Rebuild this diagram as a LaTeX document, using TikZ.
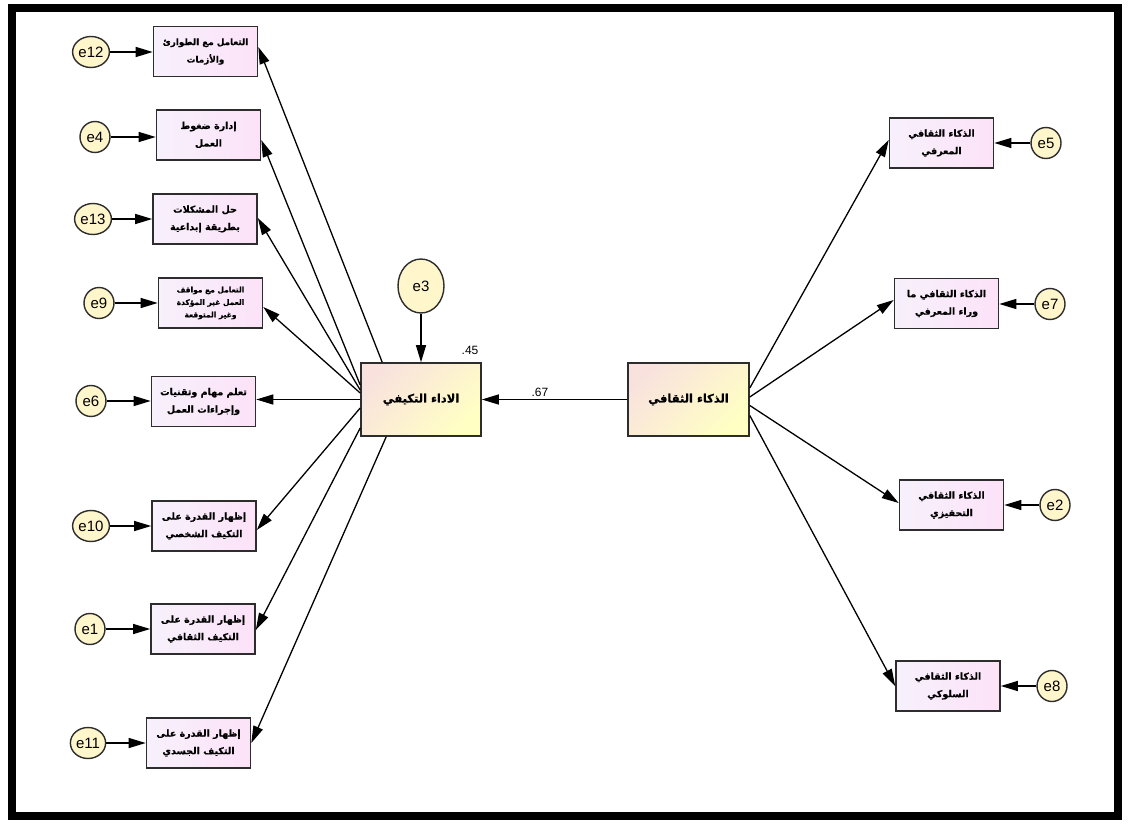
\documentclass[tikz,border=0pt]{standalone}
\usepackage{fontspec}
\setmainfont{Liberation Sans}
\newfontfamily\arabicfont[Script=Arabic,FakeBold=0.6]{DejaVu Sans Bold}
\TeXXeTstate=1
\usetikzlibrary{arrows.meta,calc,shapes.geometric}
\definecolor{indleft}{RGB}{247,241,252}
\definecolor{indright}{RGB}{252,226,248}
\definecolor{latleft}{RGB}{249,226,222}
\definecolor{latright}{RGB}{255,255,196}
\definecolor{errfill}{RGB}{255,246,204}
\definecolor{boxline}{RGB}{45,45,45}
\newcommand{\rl}[1]{\beginR#1\endR}

\begin{document}
\begin{tikzpicture}[
  x=1pt,y=-1pt,
  ind/.style={draw=boxline,line width=1.6pt,left color=indleft,right color=indright,minimum width=104pt,minimum height=50pt,inner sep=1pt,align=center,font=\arabicfont\fontsize{9.5}{17.5}\selectfont},
  lat/.style={draw=boxline,line width=1.6pt,left color=latleft,right color=latright,shading angle=45,minimum width=120pt,minimum height=73pt,inner sep=1pt,align=center,font=\arabicfont\fontsize{11.5}{15}\selectfont},
  err/.style={ellipse,draw=boxline,line width=1.4pt,fill=errfill,minimum width=30pt,minimum height=31pt,inner sep=0.5pt,font=\fontsize{15}{15}\selectfont},
  arr/.style={-{Triangle[length=17pt,width=10pt]},line width=1.3pt,draw=black},
  est/.style={font=\fontsize{12}{12}\selectfont,inner sep=1pt}
]
\useasboundingbox (0,0) rectangle (1130,824);
\fill[white] (0,0) rectangle (1130,824);
\draw[line width=8pt] (12,8) rectangle (1118,816);
% ---------------- latent variables ----------------
\node[lat] (ap) at (421,399.5) {\rl{الاداء التكيفي}};
\node[lat,minimum width=121pt] (ci) at (688.5,399.5) {\rl{الذكاء الثقافي}};
\node[err,minimum width=46pt,minimum height=54pt] (e3) at (421,286) {e3};
\draw[arr] (e3) -- (ap);
\draw[arr] (ci) -- node[est,above,pos=0.6,yshift=1pt]{.67} (ap);
\node[est] (r2ap) at (470,350) {.45};
% ---------------- adaptive performance indicators (left) ----------------
\node[ind,font=\arabicfont\fontsize{8.8}{17.5}\selectfont] (b1) at (205.5,51.5) {\rl{التعامل مع الطوارئ}\\\rl{والأزمات}};
\node[ind] (b2) at (208.5,135) {\rl{إدارة ضغوط}\\\rl{العمل}};
\node[ind] (b3) at (205,219) {\rl{حل المشكلات}\\\rl{بطريقة إبداعية}};
\node[ind,font=\arabicfont\fontsize{7.5}{12.5}\selectfont] (b4) at (210.5,303) {\rl{التعامل مع مواقف}\\\rl{العمل غير المؤكدة}\\\rl{وغير المتوقعة}};
\node[ind] (b5) at (203.5,401.5) {\rl{تعلم مهام وتقنيات}\\\rl{وإجراءات العمل}};
\node[ind] (b6) at (204,526) {\rl{إظهار القدرة على}\\\rl{التكيف الشخصي}};
\node[ind] (b7) at (203,629) {\rl{إظهار القدرة على}\\\rl{التكيف الثقافي}};
\node[ind] (b8) at (198.5,743) {\rl{إظهار القدرة على}\\\rl{التكيف الجسدي}};
\node[err] (e12) at (91,52) {e12};
\node[err] (e4) at (95,137) {e4};
\node[err] (e13) at (93,219) {e13};
\node[err] (e9) at (99,303) {e9};
\node[err] (e6) at (91,401) {e6};
\node[err] (e10) at (91,526) {e10};
\node[err] (e1) at (90,629) {e1};
\node[err] (e11) at (88,743) {e11};
\foreach \e/\b in {e12/b1,e4/b2,e13/b3,e9/b4,e6/b5,e10/b6,e1/b7,e11/b8}
  \draw[arr] (\e) -- (\e -| \b.west);
\draw[arr] ($(ap.north west)+(22,0)$) -- ($(b1.east)+(0,-4.5)$);
\draw[arr] ($(ap.west)+(0,-14.5)$) -- ($(b2.east)+(0,5)$);
\draw[arr] ($(ap.west)+(0,-9.5)$) -- ($(b3.east)+(0,-1)$);
\draw[arr] ($(ap.west)+(0,-6.5)$) -- ($(b4.east)+(0,4)$);
\draw[arr] (ap.west) -- (ap.west -| b5.east);
\draw[arr] ($(ap.west)+(0,8.5)$) -- ($(b6.east)+(0,4)$);
\draw[arr] ($(ap.west)+(0,28.5)$) -- ($(b7.east)+(0,1)$);
\draw[arr] ($(ap.south west)+(26,0)$) -- (b8.east);
% ---------------- cultural intelligence indicators (right) ----------------
\node[ind] (r1) at (941.5,143) {\rl{الذكاء الثقافي}\\\rl{المعرفي}};
\node[ind] (r2) at (946.5,303.5) {\rl{الذكاء الثقافي ما}\\\rl{وراء المعرفي}};
\node[ind] (r3) at (951.5,505) {\rl{الذكاء الثقافي}\\\rl{التحفيزي}};
\node[ind] (r4) at (948,686) {\rl{الذكاء الثقافي}\\\rl{السلوكي}};
\node[err] (e5) at (1046,143) {e5};
\node[err] (e7) at (1050,304) {e7};
\node[err] (e2) at (1055,505) {e2};
\node[err] (e8) at (1052,686) {e8};
\foreach \e/\r in {e5/r1,e7/r2,e2/r3,e8/r4}
  \draw[arr] (\e) -- (\e -| \r.east);
\draw[arr] ($(ci.east)+(0,-11.5)$) -- ($(r1.west)+(0,-3)$);
\draw[arr] ($(ci.east)+(0,-2.5)$) -- ($(r2.west)+(0,-3.5)$);
\draw[arr] ($(ci.east)+(0,6)$) -- ($(r3.west)+(0,-2)$);
\draw[arr] ($(ci.east)+(0,16)$) -- (r4.west);
\end{tikzpicture}
\end{document}
